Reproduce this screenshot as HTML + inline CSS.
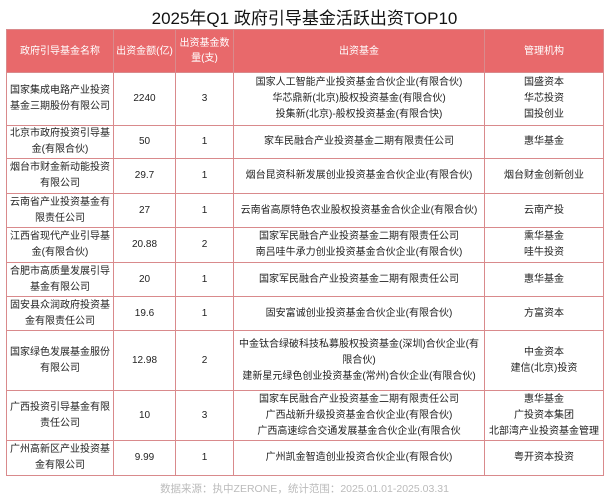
<!DOCTYPE html>
<html><head><meta charset="utf-8"><style>
body{margin:0;width:609px;height:500px;background:#fff;font-family:"Liberation Sans","Noto Sans CJK SC",sans-serif;color:#222;overflow:hidden;position:relative}
.t{position:absolute;top:4px;left:0;width:609px;text-align:center;font-size:17px;color:#111}
table{position:absolute;left:6px;top:29px;width:597px;border-collapse:collapse;table-layout:fixed;font-size:10px}
td,th{border:1px solid #d98a8c;text-align:center;vertical-align:middle;padding:0;line-height:16px;white-space:nowrap;overflow:hidden}
td:first-child,th{white-space:normal}
td div{line-height:16px}
th{background:#e8696b;color:#fff;font-weight:normal;height:42px;line-height:15px}
.f{position:absolute;top:481px;left:0;width:609px;text-align:center;font-size:10.5px;color:#bbb}
</style></head><body>
<div class="t">2025年Q1 政府引导基金活跃出资TOP10</div>
<table>
<colgroup><col style="width:107px"><col style="width:62px"><col style="width:58px"><col style="width:251px"><col style="width:119px"></colgroup>
<tr><th>政府引导基金名称</th><th>出资金额(亿)</th><th>出资基金数量(支)</th><th>出资基金</th><th>管理机构</th></tr>
<tr style="height:53px"><td>国家集成电路产业投资基金三期股份有限公司</td><td>2240</td><td>3</td><td>国家人工智能产业投资基金合伙企业(有限合伙)<br>华芯鼎新(北京)股权投资基金(有限合伙)<br>投集新(北京)-般权投资基金(有限合快)</td><td>国盛资本<br>华芯投资<br>国投创业</td></tr>
<tr style="height:33px"><td>北京市政府投资引导基金(有限合伙)</td><td>50</td><td>1</td><td>家车民融合产业投资基金二期有限责任公司</td><td>惠华基金</td></tr>
<tr style="height:35px"><td>烟台市财金新动能投资有限公司</td><td>29.7</td><td>1</td><td>烟台昆资科新发展创业投资基金合伙企业(有限合伙)</td><td>烟台财金创新创业</td></tr>
<tr style="height:34px"><td>云南省产业投资基金有限责任公司</td><td>27</td><td>1</td><td>云南省高原特色农业股权投资基金合伙企业(有限合伙)</td><td>云南产投</td></tr>
<tr style="height:35px"><td>江西省现代产业引导基金(有限合伙)</td><td>20.88</td><td>2</td><td>国家军民融合产业投资基金二期有限责任公司<br>南吕哇牛承力创业投资基金合伙企业(有限合伙)</td><td>熏华基金<br>哇牛投资</td></tr>
<tr style="height:34px"><td>合肥市高质量发展引导基金有限公司</td><td>20</td><td>1</td><td>国家军民融合产业投资基金二期有限责任公司</td><td>惠华基金</td></tr>
<tr style="height:34px"><td>固安县众润政府投资基金有限责任公司</td><td>19.6</td><td>1</td><td>固安富诚创业投资基金合伙企业(有限合伙)</td><td>方富资本</td></tr>
<tr style="height:60px"><td>国家绿色发展基金服份有限公司</td><td>12.98</td><td>2</td><td>中金钛合绿破科技私募股权投资基金(深圳)合伙企业(有<br>限合伙)<br>建新星元绿色创业投资基金(常州)合伙企业(有限合伙)</td><td>中金资本<br>建信(北京)投资</td></tr>
<tr style="height:50px"><td>广西投资引导基金有限责任公司</td><td>10</td><td>3</td><td>国家车民融合产业投资基金二期有限责任公司<br>广西战新升级投资基金合伙企业(有限合伙)<br>广西高速综合交通发展基金合伙企业(有限合伙</td><td>惠华基金<br>广投资本集团<br>北部湾产业投资基金管理</td></tr>
<tr style="height:35px"><td>广州高新区产业投资基金有限公司</td><td>9.99</td><td>1</td><td>广州凯金智造创业投资合伙企业(有限合伙)</td><td>粤开资本投资</td></tr>
</table>
<div class="f">数据来源：执中ZERONE，统计范围：2025.01.01-2025.03.31</div>
</body></html>
